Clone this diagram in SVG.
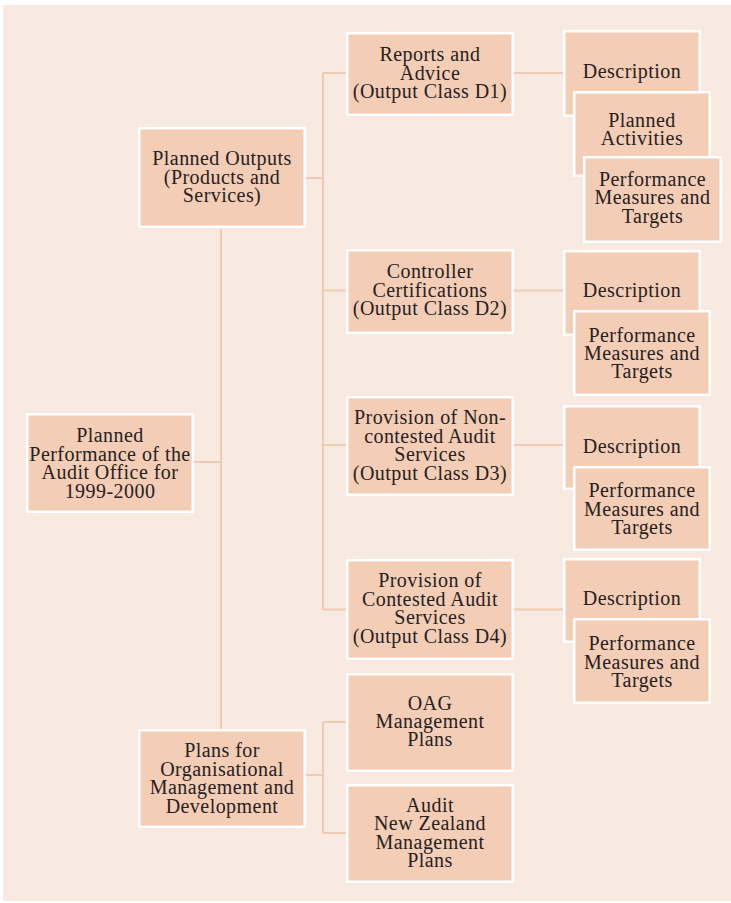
<svg xmlns="http://www.w3.org/2000/svg" width="731" height="903" viewBox="0 0 731 903">
<style>
.bx{fill:#f3cdb6;stroke:#ffffff;stroke-width:2.5}
.t{font-family:"Liberation Serif","Times New Roman",serif;font-size:20px;letter-spacing:0.45px;fill:#26211e;text-anchor:middle}
.c{fill:none;stroke:#f1cbb1;stroke-width:2}
</style>
<rect x="0" y="0" width="731" height="903" fill="#ffffff"/>
<rect x="3" y="5" width="728" height="896" fill="#f8eae0"/>
<g id="connectors" class="c">
<path d="M194 462H221"/>
<path d="M221 229V729"/>
<path d="M306 178H323"/>
<path d="M323 73V609.5"/>
<path d="M323 73H346M323 290.5H346M323 445H346M323 609.5H346"/>
<path d="M514 73H563M514 290.5H563M514 445H563M514 609.5H563"/>
<path d="M306 775H323"/>
<path d="M323 722V833M323 722H346M323 833H346"/>
</g>
<g id="planned-performance">
<rect class="bx" x="27.25" y="414.25" width="165.5" height="97.5"/>
<text class="t" x="110" y="442">Planned</text>
<text class="t" x="110" y="460.5">Performance of the</text>
<text class="t" x="110" y="479">Audit Office for</text>
<text class="t" x="110" y="497.5">1999-2000</text>
</g>
<g id="planned-outputs">
<rect class="bx" x="139.25" y="128.25" width="165.5" height="98.5"/>
<text class="t" x="222" y="165">Planned Outputs</text>
<text class="t" x="222" y="183.5">(Products and</text>
<text class="t" x="222" y="202">Services)</text>
</g>
<g id="plans-org">
<rect class="bx" x="139.25" y="730.25" width="165.5" height="96.5"/>
<text class="t" x="222" y="757">Plans for</text>
<text class="t" x="222" y="775.5">Organisational</text>
<text class="t" x="222" y="794">Management and</text>
<text class="t" x="222" y="812.5">Development</text>
</g>
<g id="d1">
<rect class="bx" x="347.25" y="33.25" width="165.5" height="81.5"/>
<text class="t" x="430" y="61">Reports and</text>
<text class="t" x="430" y="79.5">Advice</text>
<text class="t" x="430" y="98">(Output Class D1)</text>
</g>
<g id="d2">
<rect class="bx" x="347.25" y="250.25" width="165.5" height="82.5"/>
<text class="t" x="430" y="278">Controller</text>
<text class="t" x="430" y="296.5">Certifications</text>
<text class="t" x="430" y="315">(Output Class D2)</text>
</g>
<g id="d3">
<rect class="bx" x="347.25" y="397.25" width="165.5" height="97.5"/>
<text class="t" x="430" y="424">Provision of Non-</text>
<text class="t" x="430" y="442.5">contested Audit</text>
<text class="t" x="430" y="461">Services</text>
<text class="t" x="430" y="479.5">(Output Class D3)</text>
</g>
<g id="d4">
<rect class="bx" x="347.25" y="560.25" width="165.5" height="98.5"/>
<text class="t" x="430" y="587">Provision of</text>
<text class="t" x="430" y="605.5">Contested Audit</text>
<text class="t" x="430" y="624">Services</text>
<text class="t" x="430" y="642.5">(Output Class D4)</text>
</g>
<g id="oag">
<rect class="bx" x="347.25" y="674.25" width="165.5" height="96.5"/>
<text class="t" x="430" y="710">OAG</text>
<text class="t" x="430" y="728">Management</text>
<text class="t" x="430" y="746">Plans</text>
</g>
<g id="audit-nz">
<rect class="bx" x="347.25" y="785.25" width="165.5" height="96.5"/>
<text class="t" x="430" y="812">Audit</text>
<text class="t" x="430" y="830">New Zealand</text>
<text class="t" x="430" y="848.5">Management</text>
<text class="t" x="430" y="867">Plans</text>
</g>
<g id="desc1">
<rect class="bx" x="564.25" y="31.25" width="135.5" height="84.5"/>
<text class="t" x="632" y="78">Description</text>
</g>
<g id="activities1">
<rect class="bx" x="574.25" y="92.25" width="135.5" height="83.5"/>
<text class="t" x="642" y="127">Planned</text>
<text class="t" x="642" y="145">Activities</text>
</g>
<g id="perf1">
<rect class="bx" x="584.25" y="157.25" width="136.5" height="84.5"/>
<text class="t" x="652.5" y="186">Performance</text>
<text class="t" x="652.5" y="204">Measures and</text>
<text class="t" x="652.5" y="222.5">Targets</text>
</g>
<g id="desc2">
<rect class="bx" x="564.25" y="251.25" width="135.5" height="83.5"/>
<text class="t" x="632" y="297">Description</text>
</g>
<g id="perf2">
<rect class="bx" x="574.25" y="311.25" width="135.5" height="83.5"/>
<text class="t" x="642" y="342">Performance</text>
<text class="t" x="642" y="360">Measures and</text>
<text class="t" x="642" y="378">Targets</text>
</g>
<g id="desc3">
<rect class="bx" x="564.25" y="406.25" width="135.5" height="82.5"/>
<text class="t" x="632" y="453">Description</text>
</g>
<g id="perf3">
<rect class="bx" x="574.25" y="467.25" width="135.5" height="82.5"/>
<text class="t" x="642" y="497">Performance</text>
<text class="t" x="642" y="515.5">Measures and</text>
<text class="t" x="642" y="533.5">Targets</text>
</g>
<g id="desc4">
<rect class="bx" x="564.25" y="559.25" width="135.5" height="82.5"/>
<text class="t" x="632" y="605">Description</text>
</g>
<g id="perf4">
<rect class="bx" x="574.25" y="619.25" width="135.5" height="83.5"/>
<text class="t" x="642" y="650">Performance</text>
<text class="t" x="642" y="668.5">Measures and</text>
<text class="t" x="642" y="687">Targets</text>
</g>
</svg>
